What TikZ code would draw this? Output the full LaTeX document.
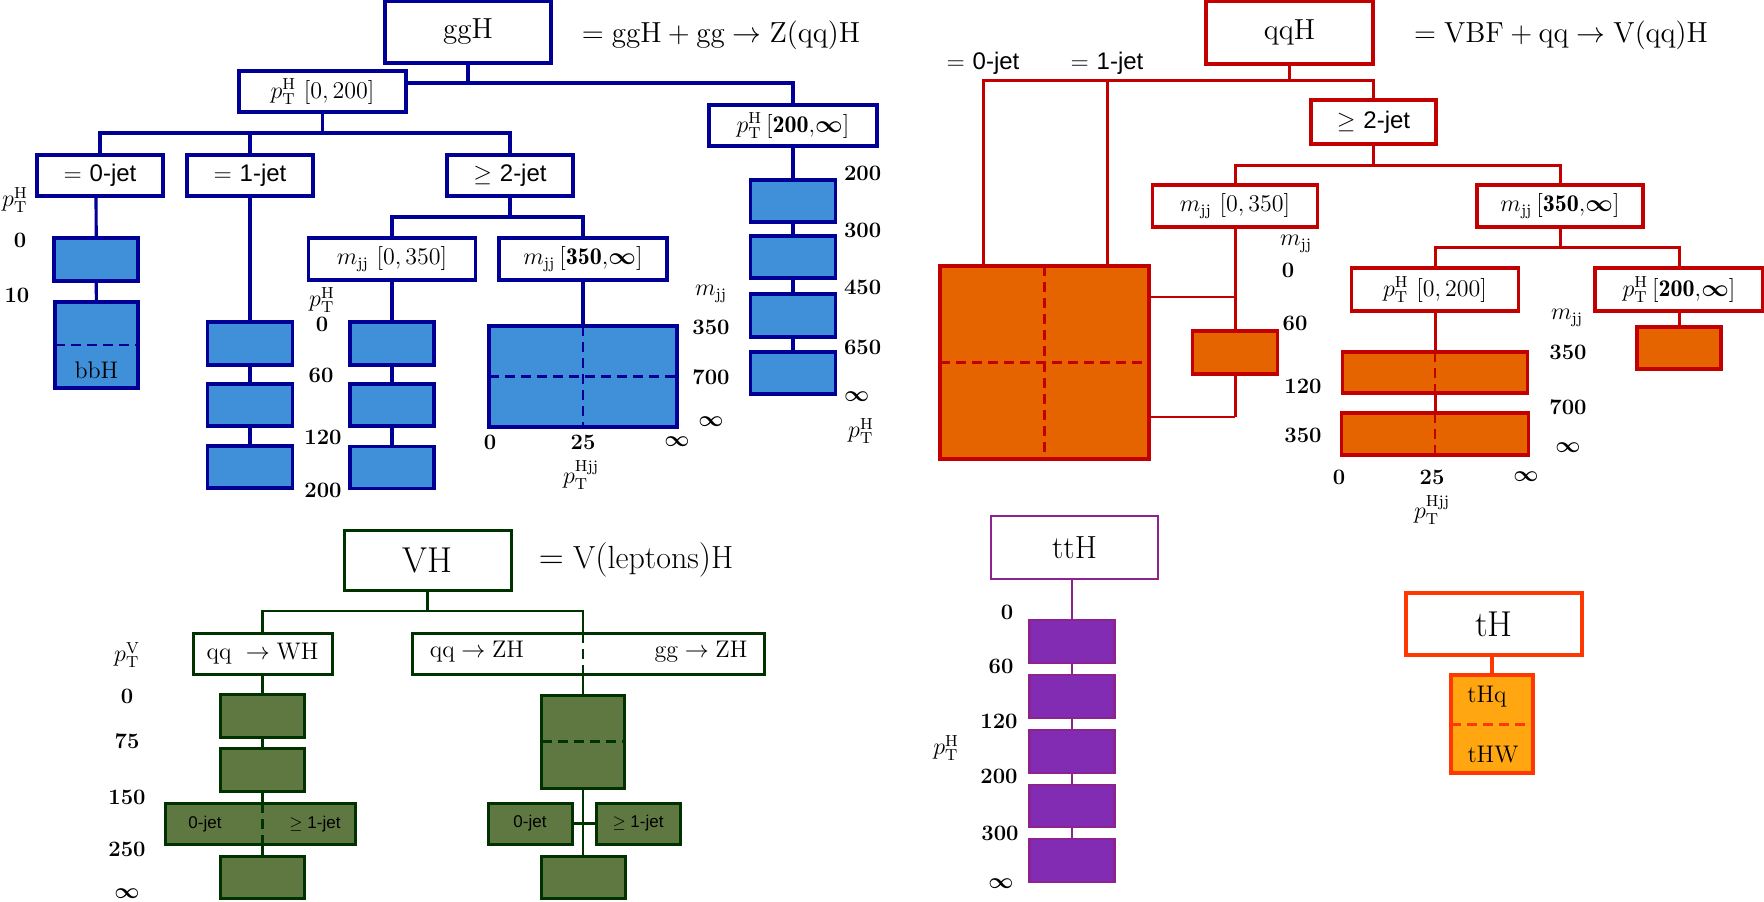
\documentclass[tikz,border=0pt]{standalone}
\usepackage{fontspec}
\newfontfamily\jetfont{Liberation Sans}
\usetikzlibrary{backgrounds}
\definecolor{bl}{RGB}{0,0,150}
\definecolor{blf}{RGB}{63,143,217}
\definecolor{rd}{RGB}{195,0,0}
\definecolor{rdf}{RGB}{229,100,0}
\definecolor{gr}{RGB}{0,50,0}
\definecolor{grf}{RGB}{95,120,65}
\definecolor{pu}{RGB}{140,35,145}
\definecolor{puf}{RGB}{130,44,180}
\definecolor{tho}{RGB}{255,55,0}
\definecolor{thf}{RGB}{255,166,17}
\newcommand\fTitle{\fontsize{14.5}{17}\selectfont}
\newcommand\fBig{\fontsize{18}{21}\selectfont}
\newcommand\fMid{\fontsize{16}{19}\selectfont}
\newcommand\fBox{\fontsize{12}{14}\selectfont}
\newcommand\fNum{\fontsize{11}{13}\selectfont\bfseries}
\newcommand\fSmall{\fontsize{8.5}{10}\selectfont\jetfont}
\newcommand\mypt[1]{p_\mathrm{T}^\mathrm{#1}}
\newcommand\mymjj{m_\mathrm{jj}}
\newcommand\myjet[2]{$#1$ {\jetfont #2}}
\newcommand\myinf{{\boldmath$\infty$}}
\begin{document}
\begin{tikzpicture}[x=0.5pt,y=-0.5pt,
  every node/.style={inner sep=0pt,outer sep=0pt},
  sz/.style 2 args={minimum width=#1*0.5pt,minimum height=#2*0.5pt},
  wbox/.style={rectangle,fill=white,font=\fBox},
  fillbox/.style={rectangle},
  num/.style={font=\fNum},
  ax/.style={font=\fBox},
  bB/.style={wbox,draw=bl,line width=1.6pt},
  bF/.style={fillbox,draw=bl,fill=blf,line width=1.6pt},
  bL/.style={draw=bl,line width=1.6pt},
  bD/.style={draw=bl,line width=1.4pt,dash pattern=on 5pt off 3pt},
  rB/.style={wbox,draw=rd,line width=1.6pt},
  rF/.style={fillbox,draw=rd,fill=rdf,line width=1.6pt},
  rL/.style={draw=rd,line width=1.5pt},
  rD/.style={draw=rd,line width=1.3pt,dash pattern=on 5pt off 3pt},
  gB/.style={wbox,draw=gr,line width=1.5pt},
  gF/.style={fillbox,draw=gr,fill=grf,line width=1.5pt},
  gL/.style={draw=gr,line width=1.4pt},
  gD/.style={draw=gr,line width=1.4pt,dash pattern=on 5pt off 3pt},
  pB/.style={wbox,draw=pu,line width=1.3pt},
  pF/.style={fillbox,draw=pu,fill=puf,line width=1.3pt},
  pL/.style={draw=pu,line width=1.3pt},
  tB/.style={wbox,draw=tho,line width=1.8pt},
  tF/.style={fillbox,draw=tho,fill=thf,line width=1.8pt},
  tL/.style={draw=tho,line width=1.8pt},
  tD/.style={draw=tho,line width=1.5pt,dash pattern=on 5pt off 3pt}
]
\useasboundingbox (0,0) rectangle (1764,901);

% ================= ggH (blue) =================
\node[bB,sz={166}{62},font=\fTitle] (ggH) at (468,32) {ggH};
\node[font=\fTitle] (eq1) at (721,35) {$=\mathrm{ggH}+\mathrm{gg}\to\mathrm{Z(qq)H}$};
\node[bB,sz={167}{41}] (ptlo) at (322.5,91.5) {$\mypt{H}\ [0,200]$};
\node[bB,sz={168}{41}] (pthi) at (793,125.5) {$\mypt{H}\,[\mathbf{200},$\myinf$]$};
\node[bB,sz={126}{41}] (j0) at (100,175.5) {\myjet{=}{0-jet}};
\node[bB,sz={126}{41}] (j1) at (250,175.5) {\myjet{=}{1-jet}};
\node[bB,sz={126}{41}] (j2) at (510,175.5) {\myjet{\geq}{2-jet}};
\node[bB,sz={167}{42}] (mlo) at (392,259) {$\mymjj\ [0,350]$};
\node[bB,sz={168}{42}] (mhi) at (583,259) {$\mymjj\,[\mathbf{350},$\myinf$]$};
\node[bF,sz={84}{43}] (b0a) at (96,259.5) {};
\node[bF,sz={83}{86}] (b0b) at (96.5,345) {};
\node[font=\fBox] (tbbH) at (96.5,370) {bbH};
\node[bF,sz={85}{43}] (b1a) at (250,343.5) {};
\node[bF,sz={85}{42}] (b1b) at (250,405) {};
\node[bF,sz={85}{42}] (b1c) at (250,467) {};
\node[bF,sz={84}{43}] (b2a) at (392,343.5) {};
\node[bF,sz={84}{42}] (b2b) at (392,405) {};
\node[bF,sz={84}{42}] (b2c) at (392,467.5) {};
\node[bF,sz={188}{101}] (bm) at (583,376.5) {};
\node[bF,sz={85}{42}] (bh1) at (793,201) {};
\node[bF,sz={85}{42}] (bh2) at (793,257) {};
\node[bF,sz={85}{43}] (bh3) at (793,315.5) {};
\node[bF,sz={85}{42}] (bh4) at (793,373) {};
\draw[bD] (b0b.west) -- (b0b.east);
\draw[bD] (bm.north) -- (bm.south);
\draw[bD] (bm.west) -- (bm.east);

\node[ax] (a1) at (15,200) {$\mypt{H}$};
\node[num] (n1) at (20,240) {0};
\node[num] (n2) at (17,295) {10};
\node[ax] (a2) at (322,300) {$\mypt{H}$};
\node[num] (n3) at (322,324) {0};
\node[num] (n4) at (321,375) {60};
\node[num] (n5) at (323,437) {120};
\node[num] (n6) at (323,490) {200};
\node[ax] (a3) at (711,294) {$\mymjj$};
\node[num] (n7) at (711,327) {350};
\node[num] (n8) at (711,377) {700};
\node[num] (n9) at (711,422) {\myinf};
\node[num] (n10) at (490,442) {0};
\node[num] (n11) at (583,442) {25};
\node[num] (n12) at (677,442) {\myinf};
\node[ax] (a4) at (581,475) {$\mypt{Hjj}$};
\node[num,anchor=west] (n13) at (844,173) {200};
\node[num,anchor=west] (n14) at (844,230) {300};
\node[num,anchor=west] (n15) at (844,287) {450};
\node[num,anchor=west] (n16) at (844,347) {650};
\node[num,anchor=west] (n17) at (844,397) {\myinf};
\node[ax] (a5) at (861,431) {$\mypt{H}$};

% ================= qqH (red) =================
\node[rB,sz={167}{63},font=\fTitle] (qqH) at (1289.5,32.5) {qqH};
\node[font=\fTitle] (eq2) at (1561,35) {$=\mathrm{VBF}+\mathrm{qq}\to\mathrm{V(qq)H}$};
\node[font=\fBox] (lj0) at (983,63) {\myjet{=}{0-jet}};
\node[font=\fBox] (lj1) at (1107,63) {\myjet{=}{1-jet}};
\node[rB,sz={125}{44}] (rj2) at (1373.5,122) {\myjet{\geq}{2-jet}};
\node[rB,sz={165}{42}] (rmlo) at (1235,206) {$\mymjj\ [0,350]$};
\node[rB,sz={166}{42}] (rmhi) at (1560,206) {$\mymjj\,[\mathbf{350},$\myinf$]$};
\node[rF,sz={209}{193}] (big) at (1044.5,362.5) {};
\node[rF,sz={85}{43}] (rsm) at (1235,352.5) {};
\node[rB,sz={167}{43}] (rptlo) at (1435,289.5) {$\mypt{H}\ [0,200]$};
\node[rB,sz={168}{43}] (rpthi) at (1679,289.5) {$\mypt{H}\,[\mathbf{200},$\myinf$]$};
\node[rF,sz={185}{41}] (rb1) at (1435,372.5) {};
\node[rF,sz={187}{42}] (rb2) at (1435,434) {};
\node[rF,sz={84}{42}] (rb3) at (1679,348) {};
\draw[rD] (big.north) -- (big.south);
\draw[rD] (big.west) -- (big.east);
\draw[rD] (rb1.north) -- (rb1.south);
\draw[rD] (rb2.north) -- (rb2.south);

\node[ax] (a6) at (1296,244) {$\mymjj$};
\node[num] (n18) at (1288,270) {0};
\node[num] (n19) at (1295,323) {60};
\node[num] (n20) at (1303,386) {120};
\node[num] (n21) at (1303,435) {350};
\node[ax] (a7) at (1567,318) {$\mymjj$};
\node[num] (n22) at (1568,352) {350};
\node[num] (n23) at (1568,407) {700};
\node[num] (n24) at (1568,448) {\myinf};
\node[num] (n25) at (1339,477) {0};
\node[num] (n26) at (1432,477) {25};
\node[num] (n27) at (1526,477) {\myinf};
\node[ax] (a8) at (1432,510) {$\mypt{Hjj}$};

% ================= VH (green) =================
\node[gB,sz={167}{60},font=\fBig] (VH) at (427.5,560) {VH};
\node[font=\fMid] (eq3) at (636,560) {$=\mathrm{V(leptons)H}$};
\node[gB,sz={139}{41}] (wh) at (262.5,653.5) {$\mathrm{qq}\ \to\mathrm{WH}$};
\node[gB,sz={352}{41}] (zh) at (588,653.5) {};
\node[font=\fBox] (tzh1) at (477,652) {$\mathrm{qq}\to\mathrm{ZH}$};
\node[font=\fBox] (tzh2) at (701,652) {$\mathrm{gg}\to\mathrm{ZH}$};
\node[gF,sz={84}{43}] (gw1) at (262.5,715.5) {};
\node[gF,sz={84}{43}] (gw2) at (262.5,769.5) {};
\node[gF,sz={190}{41}] (gw3) at (260,823.5) {};
\node[font=\fSmall] (t1) at (205,824) {0-jet};
\node[font=\fSmall] (t2) at (315,824) {$\geq$ 1-jet};
\node[gF,sz={84}{42}] (gw4) at (262.5,877) {};
\node[gF,sz={83}{93}] (gz1) at (583,741.5) {};
\node[gF,sz={84}{41},font=\fSmall] (gz2) at (530,823.5) {0-jet};
\node[gF,sz={84}{41},font=\fSmall] (gz3) at (638,823.5) {$\geq$ 1-jet};
\node[gF,sz={84}{42}] (gz4) at (583,877) {};
\draw[gD] (zh.north -| gz1.center) -- (zh.south -| gz1.center);
\draw[gD] (gw3.north -| gw1.center) -- (gw3.south -| gw1.center);
\draw[gD] (gz1.west) -- (gz1.east);

\node[ax] (a9) at (127,655) {$\mypt{V}$};
\node[num] (n28) at (127,696) {0};
\node[num] (n29) at (127,741) {75};
\node[num] (n30) at (127,797) {150};
\node[num] (n31) at (127,849) {250};
\node[num] (n32) at (127,894) {\myinf};

% ================= ttH (purple) =================
\node[pB,sz={167}{63},font=\fMid] (ttH) at (1074.5,547.5) {ttH};
\node[pF,sz={85}{43}] (p1) at (1072,641.5) {};
\node[pF,sz={85}{43}] (p2) at (1072,696.5) {};
\node[pF,sz={85}{43}] (p3) at (1072,751.5) {};
\node[pF,sz={85}{42}] (p4) at (1072,806) {};
\node[pF,sz={85}{43}] (p5) at (1072,860.5) {};
\node[num] (n33) at (1007,612) {0};
\node[num] (n34) at (1001,666) {60};
\node[num] (n35) at (999,721) {120};
\node[num] (n36) at (999,776) {200};
\node[num] (n37) at (1000,833) {300};
\node[num] (n38) at (1001,884) {\myinf};
\node[ax] (a10) at (946,748) {$\mypt{H}$};

% ================= tH (orange) =================
\node[tB,sz={176}{62},font=\fBig] (tH) at (1494,624) {tH};
\node[tF,sz={82}{98}] (thb) at (1492,724) {};
\draw[tD] (thb.west) -- (thb.east);
\node[font=\fBox] (tq) at (1487,697) {tHq};
\node[font=\fBox] (tw) at (1493,755) {tHW};

% ================= connectors =================
\begin{scope}[on background layer]
\coordinate (gy1) at (0,83);
\coordinate (gy2) at (0,133);
\coordinate (gy3) at (0,217);
\draw[bL] (ggH.center) -- (ggH.center |- gy1);
\draw[bL] (ptlo.center |- gy1) -- (pthi.center |- gy1) -- (pthi.center);
\draw[bL] (pthi.center) -- (bh4.center);
\draw[bL] (ptlo.center) -- (ptlo.center |- gy2);
\draw[bL] (j0.center) |- (j2.center |- gy2) -- (j2.center);
\draw[bL] (j1.center) -- (j1.center |- gy2);
\draw[bL] (b0a.center |- j0.center) -- (b0b.center);
\draw[bL] (j1.center) -- (b1c.center);
\draw[bL] (j2.center) -- (j2.center |- gy3);
\draw[bL] (mlo.center) |- (mhi.center |- gy3) -- (mhi.center);
\draw[bL] (mlo.center) -- (b2c.center);
\draw[bL] (mhi.center) -- (bm.center);

\coordinate (ry1) at (0,80);
\coordinate (ry2) at (0,165);
\coordinate (ry3) at (0,247);
\coordinate (ry4) at (0,297);
\coordinate (ry5) at (0,417);
\draw[rL] (qqH.center) -- (qqH.center |- ry1);
\draw[rL] (lj0.center |- big.center) |- (rj2.center |- ry1) -- (rj2.center);
\draw[rL] (lj1.center |- ry1) -- (lj1.center |- big.center);
\draw[rL] (rj2.center) -- (rj2.center |- ry2);
\draw[rL] (rmlo.center) |- (rmhi.center |- ry2) -- (rmhi.center);
\draw[rL] (rmlo.center) -- (rmlo.center |- ry5);
\draw[rL,line width=1pt] (rmlo.center |- ry5) -- (big.center |- ry5);
\draw[rL,line width=1pt] (big.center |- ry4) -- (rmlo.center |- ry4);
\draw[rL] (rmhi.center) -- (rmhi.center |- ry3);
\draw[rL] (rptlo.center) |- (rpthi.center |- ry3) -- (rpthi.center);
\draw[rL] (rptlo.center) -- (rb2.center);
\draw[rL] (rpthi.center) -- (rb3.center);

\coordinate (vy1) at (0,611);
\draw[gL] (VH.center) -- (VH.center |- vy1);
\draw[gL] (wh.center) |- (gz1.center |- vy1) -- (gz4.center);
\draw[gL] (wh.center) -- (gw4.center);
\draw[gL] (gz2.center) -- (gz3.center);

\draw[pL] (p1.center |- ttH.center) -- (p5.center);
\draw[tL] (thb.center |- tH.center) -- (thb.center);
\end{scope}
\end{tikzpicture}
\end{document}
